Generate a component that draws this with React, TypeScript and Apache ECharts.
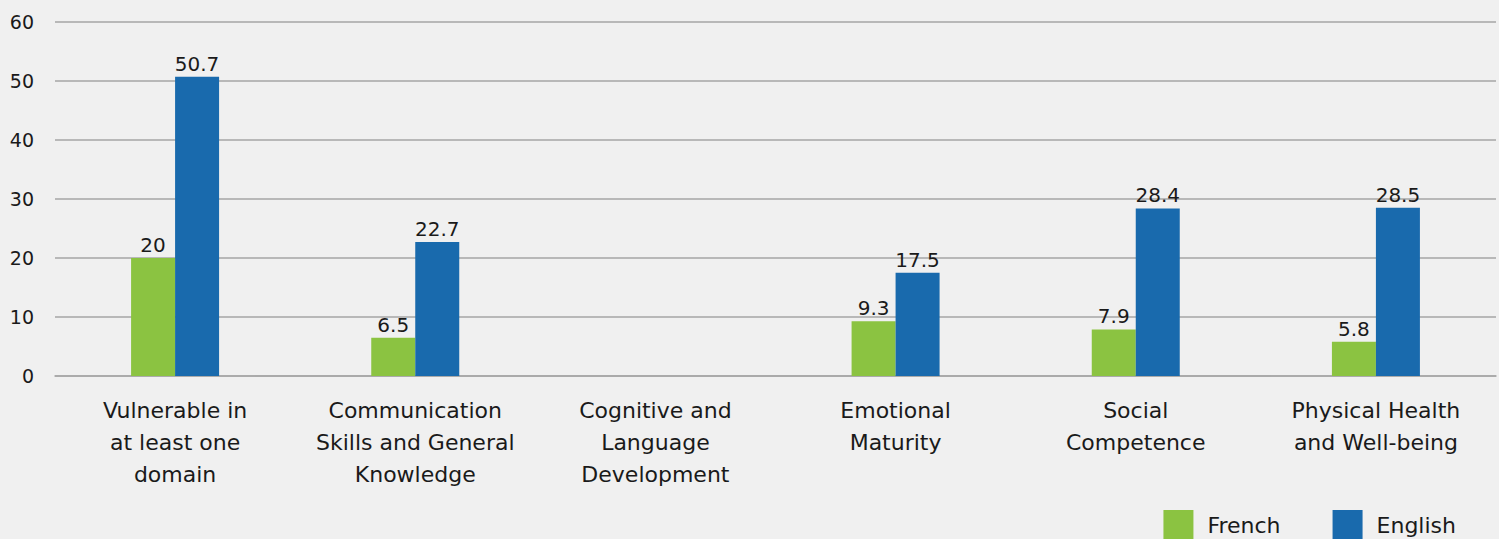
import React, { useEffect, useRef } from "react";
import * as echarts from "echarts";

const categories = [
  "Vulnerable in\nat least one\ndomain",
  "Communication\nSkills and General\nKnowledge",
  "Cognitive and\nLanguage\nDevelopment",
  "Emotional\nMaturity",
  "Social\nCompetence",
  "Physical Health\nand Well-being",
];
const french = [20, 6.5, null, 9.3, 7.9, 5.8];
const english = [50.7, 22.7, null, 17.5, 28.4, 28.5];
const seriesNames = ["French", "English"];

const FONT = "'DejaVu Sans', 'Noto Sans', sans-serif";

export default function App() {
  const ref = useRef<HTMLDivElement>(null);
  useEffect(() => {
    if (!ref.current) return;
    const chart = echarts.init(ref.current, null, { renderer: "svg" });
    const label = {
      show: true,
      position: "top",
      distance: 3,
      color: "#1a1a1a",
      fontSize: 20,
      fontFamily: FONT,
    };
    chart.setOption({
      animation: false,
      backgroundColor: "#f0f0f0",
      textStyle: { fontFamily: FONT },
      grid: { left: 55, right: 3, top: 22, bottom: 163, containLabel: false },
      legend: {
        data: seriesNames,
        right: 38,
        top: 505,
        itemWidth: 30,
        itemHeight: 30,
        itemGap: 52,
        icon: "rect",
        textStyle: { fontSize: 22, color: "#1a1a1a", fontFamily: FONT, padding: [0, 0, 0, 9] },
      },
      xAxis: {
        type: "category",
        data: categories,
        axisTick: { show: false },
        axisLine: { show: true, lineStyle: { color: "#a6a6a6", width: 1.5 } },
        axisLabel: {
          interval: 0,
          margin: 18,
          fontSize: 22,
          lineHeight: 32,
          color: "#1a1a1a",
          fontFamily: FONT,
        },
      },
      yAxis: {
        type: "value",
        min: 0,
        max: 60,
        interval: 10,
        axisLine: { show: false },
        axisTick: { show: false },
        axisLabel: { fontSize: 19, color: "#1a1a1a", margin: 21, fontFamily: FONT },
        splitLine: { lineStyle: { color: "#a6a6a6", width: 1.5 } },
      },
      series: [
        {
          name: seriesNames[0],
          type: "bar",
          data: french,
          barWidth: 44,
          barGap: "0%",
          itemStyle: { color: "#8bc341" },
          label,
        },
        {
          name: seriesNames[1],
          type: "bar",
          data: english,
          barWidth: 44,
          barGap: "0%",
          itemStyle: { color: "#196aad" },
          label,
        },
      ],
    });
    return () => chart.dispose();
  }, []);
  return (
    <div
      ref={ref}
      style={{ position: "fixed", left: 0, top: 0, width: 1499, height: 539 }}
    />
  );
}
